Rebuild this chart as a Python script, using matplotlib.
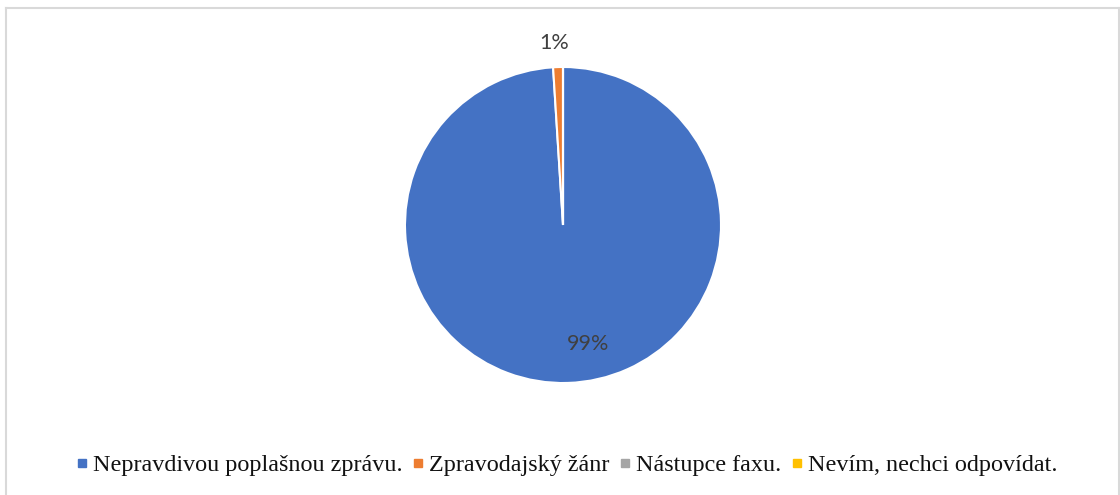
import matplotlib.pyplot as plt
from matplotlib.lines import Line2D
import numpy as np

labels = ['Nepravdivou poplašnou zprávu.', 'Zpravodajský žánr', 'Nástupce faxu.', 'Nevím, nechci odpovídat.']
values = [99, 1, 0, 0]
colors = ['#4472C4', '#ED7D31', '#A5A5A5', '#FFC000']

W, H = 1120, 495
fig = plt.figure(figsize=(W / 100, H / 100), dpi=100)

# light frame (Excel chart border), bottom edge cut off
fig.add_artist(Line2D([5.5 / W, 5.5 / W], [0, 1 - 7.5 / H], transform=fig.transFigure, color='#d9d9d9', lw=1.5))
fig.add_artist(Line2D([5.5 / W, 1118.5 / W], [1 - 7.5 / H, 1 - 7.5 / H], transform=fig.transFigure, color='#d9d9d9', lw=1.5))
fig.add_artist(Line2D([1118.5 / W, 1118.5 / W], [0, 1 - 7.5 / H], transform=fig.transFigure, color='#d9d9d9', lw=1.5))

cx, cy, r = 563, 225, 158
ax = fig.add_axes([(cx - r) / W, (H - cy - r) / H, 2 * r / W, 2 * r / H])
wedges, _ = ax.pie(values, colors=colors, startangle=90, counterclock=False,
                   wedgeprops=dict(edgecolor='white', linewidth=1.5))
ax.set_xlim(-1, 1)
ax.set_ylim(-1, 1)
ax.set_aspect('equal')

pct_font = dict(family='Lato', fontsize=15.5, color='#404040', ha='center', va='center')
total = sum(values)
# label positions roughly as in Excel's best-fit layout
ax.text(0.16, -0.75, '{:.0f}%'.format(values[0] / total * 100), **pct_font)
a = np.deg2rad(90 + 360 * values[1] / total / 2)
ax.text(1.12 * np.cos(a) - 0.02, 1.15 * np.sin(a), '{:.0f}%'.format(values[1] / total * 100), **pct_font)

handles = [Line2D([], [], marker='s', linestyle='', markersize=5.3, color=c) for c in colors]
fig.legend(handles, labels, loc='center', bbox_to_anchor=(0.5067, 1 - 465 / H), ncol=4, frameon=False,
           prop=dict(family='Liberation Serif', size=17.4), handlelength=0.4, handletextpad=0.25,
           columnspacing=0.45, labelcolor='#111111')

fig.savefig('out.png', dpi=100)
